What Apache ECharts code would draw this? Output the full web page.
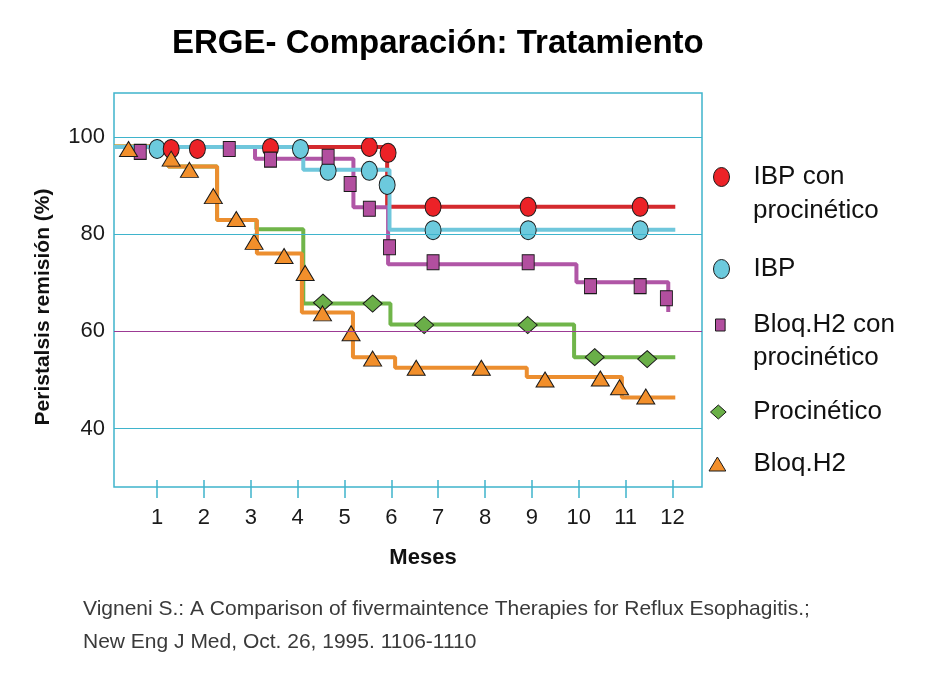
<!DOCTYPE html>
<html>
<head>
<meta charset="utf-8">
<script src="https://cdn.jsdelivr.net/npm/echarts@6/dist/echarts.min.js"></script>
<style>
html,body{margin:0;padding:0;background:#fff;}
#c{width:933px;height:691px;}
</style>
</head>
<body>
<div id="c"></div>
<script>
// ---- tick labels ----
const monthTicks = [1,2,3,4,5,6,7,8,9,10,11,12];
const yTickValues = [40,60,80,100];

// ---- step lines (time of change, level) ----
const ibpProStepX = [0.08, 5.91, 12.06];
const ibpProStepY = [97.9, 85.6, 85.6];
const ibpStepX = [0.08, 4.12, 5.96, 12.06];
const ibpStepY = [97.9, 93.2, 80.9, 80.9];
const h2ProStepX = [0.08, 3.09, 5.19, 5.93, 9.95, 11.91];
const h2ProStepY = [97.9, 95.5, 85.5, 73.8, 70.1, 64.0];
const proStepX = [0.08, 1.24, 2.28, 3.12, 4.12, 5.98, 9.90, 12.06];
const proStepY = [98.0, 93.9, 82.9, 81.0, 65.7, 61.4, 54.7, 54.7];
const h2StepX = [0.08, 1.24, 2.28, 3.13, 4.09, 5.18, 6.08, 8.89, 10.92, 12.06];
const h2StepY = [98.0, 93.9, 82.9, 76.0, 63.9, 54.7, 52.5, 50.6, 46.4, 46.4];

// ---- markers ----
const ibpProX = [1.30, 1.86, 3.42, 5.53, 5.93, 6.89, 8.92, 11.31];
const ibpProY = [97.5, 97.5, 97.7, 97.9, 96.7, 85.6, 85.6, 85.6];
const ibpX = [1.00, 4.06, 4.65, 5.53, 5.91, 6.89, 8.92, 11.31];
const ibpY = [97.5, 97.5, 93.0, 93.0, 90.1, 80.8, 80.8, 80.8];
const h2ProX = [0.64, 2.54, 3.42, 4.65, 5.12, 5.53, 5.96, 6.89, 8.92, 10.25, 11.31, 11.87];
const h2ProY = [96.9, 97.5, 95.3, 95.9, 90.3, 85.2, 77.3, 74.2, 74.2, 69.3, 69.3, 66.8];
const proX = [4.54, 5.60, 6.70, 8.91, 10.34, 11.46];
const proY = [65.9, 65.7, 61.3, 61.3, 54.7, 54.3];
const h2X = [0.39, 1.30, 1.69, 2.20, 2.69, 3.07, 3.71, 4.16, 4.53, 5.14, 5.60, 6.53, 7.92, 9.28, 10.46, 10.87, 11.43];
const h2Y = [97.5, 95.5, 93.2, 87.8, 83.1, 78.4, 75.5, 72.0, 63.7, 59.6, 54.4, 52.5, 52.5, 50.1, 50.3, 48.5, 46.6];

const names = ['IBP con procinético', 'IBP', 'Bloq.H2 con procinético', 'Procinético', 'Bloq.H2'];

function stepPoints(xs, ys) {
  const pts = [];
  for (let i = 0; i < xs.length; i++) {
    pts.push([xs[i], ys[i]]);
    if (i < xs.length - 1) pts.push([xs[i + 1], ys[i]]);
  }
  return pts;
}
function pairs(xs, ys) { return xs.map((x, i) => [x, ys[i]]); }

const C = {
  redL: '#d42a2e', red: '#ec2227',
  cyanL: '#6fc7dc', cyan: '#6ccadd',
  purL: '#b056a6', pur: '#b24f9f',
  grnL: '#70b54a', grn: '#6aaf48',
  orL: '#ec8e2f', or: '#f28f2b',
  grid: '#3fb4cc', mid: '#9c3a94'
};
const SYM = {
  ellipse: 'path://M8,0 A8,9.5 0 1,1 8,19 A8,9.5 0 1,1 8,0 Z',
  square: 'path://M0,0 L12,0 L12,15 L0,15 Z',
  diamond: 'path://M9.5,0 L19,8.5 L9.5,17 L0,8.5 Z',
  triangle: 'path://M9,0 L18,15 L0,15 Z'
};
const FONT = 'Liberation Sans';
const LEG_FS = 26;

function lineSeries(id, xs, ys, color) {
  return {
    type: 'line', name: id, data: stepPoints(xs, ys), showSymbol: false, z: 2,
    lineStyle: { width: 4, color: color }, itemStyle: { color: color },
    silent: true, animation: false
  };
}
function scatterSeries(name, xs, ys, color, sym, size) {
  return {
    type: 'scatter', name: name, data: pairs(xs, ys), symbol: sym, symbolSize: size, z: 3,
    itemStyle: { color: color, borderColor: '#1a1a1a', borderWidth: 1, opacity: 1 },
    animation: false
  };
}
// icon centre x, icon w/h, centre y; text always starts at x=753
function legendAt(name, sym, w, h, cx, cy) {
  const left = cx - w / 2;
  const spacer = 753 - (left + w + 5);
  return {
    data: [{ name: name, icon: sym }],
    orient: 'vertical', left: left, top: cy - 11, padding: 0,
    itemWidth: w, itemHeight: h, selectedMode: false,
    formatter: function (n) { return '{s| }{t|' + n.replace(' procinético', '') + '}'; },
    textStyle: {
      fontSize: LEG_FS, fontFamily: FONT, color: '#111',
      rich: {
        s: { width: spacer, fontSize: LEG_FS, fontFamily: FONT },
        t: { fontSize: LEG_FS, fontFamily: FONT, color: '#111' }
      }
    },
    itemStyle: { borderColor: '#1a1a1a', borderWidth: 1 }
  };
}

const chart = echarts.init(document.getElementById('c'), null, { renderer: 'canvas' });
chart.setOption({
  backgroundColor: '#ffffff',
  animation: false,
  title: {
    text: 'ERGE- Comparación: Tratamiento', left: 172, top: 27, padding: 0,
    textStyle: { fontSize: 33, fontWeight: 'bold', fontFamily: FONT, color: '#000' }
  },
  grid: { left: 114, top: 93, width: 588, height: 394, show: true, borderColor: C.grid, borderWidth: 1.5, backgroundColor: 'transparent' },
  xAxis: [{
    type: 'value', min: 0.08, max: 12.63, position: 'bottom',
    name: 'Meses', nameLocation: 'middle', nameGap: 60,
    nameTextStyle: { fontSize: 22, fontWeight: 'bold', fontFamily: FONT, color: '#111', padding: [0, 0, 0, 30] },
    axisLine: { show: false },
    axisTick: { show: true, customValues: monthTicks, length: 11, lineStyle: { color: C.grid, width: 1.5 } },
    axisLabel: { customValues: monthTicks, fontSize: 22, fontFamily: FONT, color: '#1a1a1a', margin: 20 },
    splitLine: { show: false }
  }, {
    type: 'value', min: 0.08, max: 12.63, position: 'bottom', offset: 0,
    axisLine: { show: false },
    axisTick: { show: true, inside: true, customValues: monthTicks, length: 7, lineStyle: { color: C.grid, width: 1.5 } },
    axisLabel: { show: false },
    splitLine: { show: false }
  }],
  yAxis: {
    type: 'value', min: 28, max: 109,
    name: 'Peristalsis remisión (%)', nameLocation: 'middle', nameGap: 60,
    nameTextStyle: { fontSize: 21, fontWeight: 'bold', fontFamily: FONT, color: '#111', padding: [0, 34, 0, 0] },
    axisLine: { show: false }, axisTick: { show: false },
    axisLabel: { customValues: yTickValues, fontSize: 22, fontFamily: FONT, color: '#1a1a1a', margin: 9 },
    splitLine: { show: false }
  },
  legend: [
    legendAt(names[0], SYM.ellipse, 16, 19, 721, 175),
    legendAt(names[1], SYM.ellipse, 16, 19, 721, 267),
    legendAt(names[2], SYM.square, 10, 12, 720, 323),
    legendAt(names[3], SYM.diamond, 16, 14, 718, 410),
    legendAt(names[4], SYM.triangle, 17, 14, 717, 462)
  ],
  graphic: [
    { type: 'text', left: 753, top: 197.5, style: { text: 'procinético', fontSize: LEG_FS, fontFamily: FONT, fill: '#111' } },
    { type: 'text', left: 753, top: 344.5, style: { text: 'procinético', fontSize: LEG_FS, fontFamily: FONT, fill: '#111' } },
    { type: 'text', left: 83, top: 610 - 11, style: { text: 'Vigneni S.: A Comparison of fivermaintence Therapies for Reflux Esophagitis.;', fontSize: 21, fontFamily: FONT, fill: '#3a3a3a' } },
    { type: 'text', left: 83, top: 643 - 11, style: { text: 'New Eng J Med, Oct. 26, 1995. 1106-1110', fontSize: 21, fontFamily: FONT, fill: '#3a3a3a' } }
  ],
  series: [
    {
      type: 'line', name: 'gridlines', data: [], z: 1, silent: true,
      markLine: {
        silent: true, symbol: ['none', 'none'], label: { show: false }, animation: false,
        lineStyle: { width: 1, type: 'solid', color: C.grid },
        data: [
          { yAxis: 100, lineStyle: { color: C.grid } },
          { yAxis: 80, lineStyle: { color: C.grid } },
          { yAxis: 60, lineStyle: { color: C.mid } },
          { yAxis: 40, lineStyle: { color: C.grid } }
        ]
      }
    },
    lineSeries('l-ibppro', ibpProStepX, ibpProStepY, C.redL),
    lineSeries('l-h2pro', h2ProStepX, h2ProStepY, C.purL),
    lineSeries('l-pro', proStepX, proStepY, C.grnL),
    lineSeries('l-h2', h2StepX, h2StepY, C.orL),
    lineSeries('l-ibp', ibpStepX, ibpStepY, C.cyanL),
    scatterSeries(names[1], ibpX, ibpY, C.cyan, SYM.ellipse, [16, 19]),
    scatterSeries(names[0], ibpProX, ibpProY, C.red, SYM.ellipse, [16, 19]),
    scatterSeries(names[2], h2ProX, h2ProY, C.pur, SYM.square, [12, 15]),
    scatterSeries(names[3], proX, proY, C.grn, SYM.diamond, [19, 17]),
    scatterSeries(names[4], h2X, h2Y, C.or, SYM.triangle, [18, 15])
  ]
});
</script>
</body>
</html>
